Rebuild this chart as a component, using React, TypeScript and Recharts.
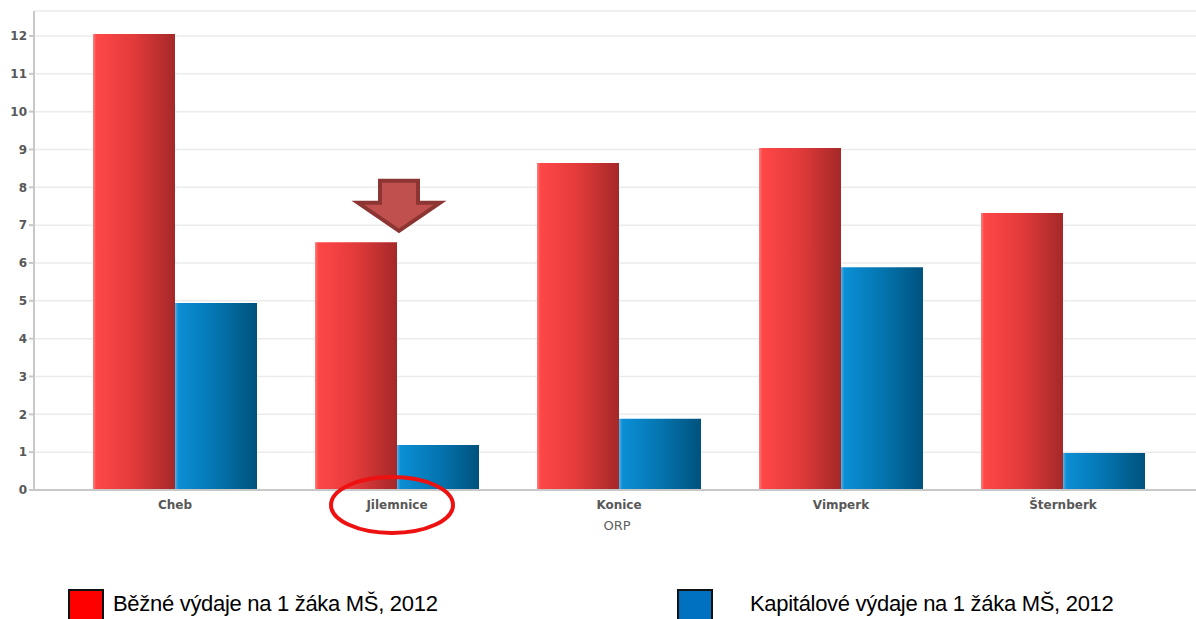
import React from 'react';
import { BarChart, Bar, CartesianGrid, XAxis, YAxis, ReferenceDot } from 'recharts';

const categories = ['Cheb', 'Jilemnice', 'Konice', 'Vimperk', 'Šternberk'];
const bezneVydaje = [12.05, 6.55, 8.64, 9.04, 7.32];
const kapitaloveVydaje = [4.94, 1.19, 1.88, 5.89, 0.98];
const yTicks = [0, 1, 2, 3, 4, 5, 6, 7, 8, 9, 10, 11, 12];

const seriesNames = ['Běžné výdaje na 1 žáka MŠ, 2012', 'Kapitálové výdaje na 1 žáka MŠ, 2012'];
const highlighted = 'Jilemnice';

const data = categories.map((name, i) => ({
  name,
  bezne: bezneVydaje[i],
  kapitalove: kapitaloveVydaje[i]
}));

const arrowTip = bezneVydaje[categories.indexOf(highlighted)] + 0.3;

const DownArrow = (props: any) => {
  const { cx, cy } = props;
  const x = cx + 2;
  const points = [
    [x - 19, cy - 50],
    [x + 19, cy - 50],
    [x + 19, cy - 28],
    [x + 41, cy - 28],
    [x, cy],
    [x - 41, cy - 28],
    [x - 19, cy - 28]
  ]
    .map((p) => p.join(','))
    .join(' ');
  return <polygon points={points} fill="#c0504d" stroke="#8c3533" strokeWidth={4} strokeLinejoin="miter" />;
};

const CategoryTick = (props: any) => {
  const { x, y, payload } = props;
  return (
    <g>
      <text
        x={x}
        y={y}
        dy={19}
        textAnchor="middle"
        fill="#585858"
        fontSize={12}
        fontWeight="bold"
        fontFamily="DejaVu Sans, sans-serif"
      >
        {payload.value}
      </text>
      {payload.value === highlighted && (
        <ellipse cx={x - 5} cy={y + 15} rx={61} ry={28} fill="none" stroke="#ee1111" strokeWidth={4} />
      )}
    </g>
  );
};

const legendColors = ['#ff0000', '#0070c0'];
const legendLeft = [68, 677];
const legendTextLeft = [113, 750];

export default function App() {
  return (
    <div style={{ position: 'absolute', left: 0, top: 0, width: 1196, height: 619, background: '#fff', overflow: 'hidden' }}>
      <BarChart
        width={1196}
        height={619}
        data={data}
        margin={{ top: 11, right: 0, left: 0, bottom: 79 }}
        barCategoryGap={29}
        barGap={0}
      >
        <defs>
          <linearGradient id="gradRed" x1="0" y1="0" x2="1" y2="0">
            <stop offset="0" stopColor="#f98080" />
            <stop offset="0.04" stopColor="#ff4747" />
            <stop offset="0.5" stopColor="#e23a3a" />
            <stop offset="1" stopColor="#a52828" />
          </linearGradient>
          <linearGradient id="gradBlue" x1="0" y1="0" x2="1" y2="0">
            <stop offset="0" stopColor="#5ab4e6" />
            <stop offset="0.04" stopColor="#0b8fd6" />
            <stop offset="0.5" stopColor="#0475b0" />
            <stop offset="1" stopColor="#00527d" />
          </linearGradient>
        </defs>
        <CartesianGrid vertical={false} stroke="#ebebeb" strokeWidth={1.5} />
        <XAxis
          dataKey="name"
          padding={{ left: 30, right: 22 }}
          height={50}
          tickLine={false}
          tickSize={0}
          tickMargin={0}
          stroke="#c8c8c8"
          strokeWidth={2}
          tick={<CategoryTick />}
          interval={0}
          label={{
            value: 'ORP',
            position: 'insideTop',
            dy: 26,
            dx: 2,
            fill: '#606060',
            fontSize: 13,
            fontFamily: 'DejaVu Sans, sans-serif'
          }}
        />
        <YAxis
          width={34}
          domain={[0, 12.66]}
          ticks={yTicks}
          tickSize={5}
          tickMargin={2}
          stroke="#c8c8c8"
          strokeWidth={2}
          tick={{ fill: '#585858', fontSize: 12, fontWeight: 'bold', fontFamily: 'DejaVu Sans, sans-serif' }}
        />
        <Bar dataKey="bezne" name={seriesNames[0]} fill="url(#gradRed)" isAnimationActive={false} />
        <Bar dataKey="kapitalove" name={seriesNames[1]} fill="url(#gradBlue)" isAnimationActive={false} />
        <ReferenceDot x={highlighted} y={arrowTip} ifOverflow="visible" shape={<DownArrow />} />
      </BarChart>
      {seriesNames.map((name, i) => (
        <React.Fragment key={name}>
          <div
            style={{
              position: 'absolute',
              left: legendLeft[i],
              top: 589,
              width: 36,
              height: 34,
              background: legendColors[i],
              border: '2px solid #111',
              boxSizing: 'border-box'
            }}
          />
          <div
            style={{
              position: 'absolute',
              left: legendTextLeft[i],
              top: 591,
              fontFamily: 'Liberation Sans, Arial, sans-serif',
              fontSize: 22,
              color: '#000',
              whiteSpace: 'nowrap',
              letterSpacing: -0.3
            }}
          >
            {name}
          </div>
        </React.Fragment>
      ))}
    </div>
  );
}
